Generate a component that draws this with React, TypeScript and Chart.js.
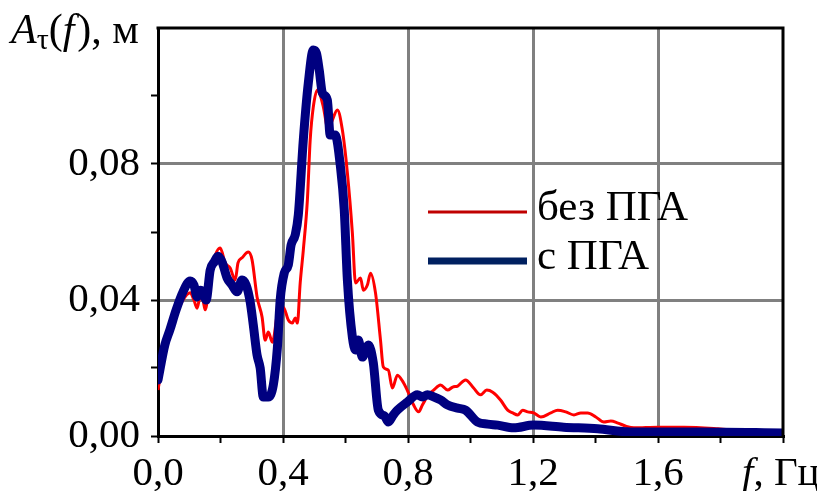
import React, { useEffect, useRef } from 'react';
import { Chart, registerables } from 'chart.js';

Chart.register(...registerables);

// ---- data ----
const seriesNames = ['без ПГА', 'с ПГА'];

const freqWithout = [
  0, 0.022, 0.038, 0.058, 0.080, 0.103, 0.115, 0.125, 0.135, 0.144,
  0.151, 0.164, 0.176, 0.199, 0.215, 0.231, 0.247, 0.256, 0.269, 0.289,
  0.301, 0.317, 0.333, 0.343, 0.353, 0.366, 0.385, 0.401, 0.417, 0.430,
  0.439, 0.446, 0.455, 0.465, 0.478, 0.487, 0.497, 0.510, 0.519, 0.529,
  0.545, 0.558, 0.574, 0.590, 0.606, 0.622, 0.632, 0.648, 0.657, 0.670,
  0.680, 0.696, 0.712, 0.721, 0.737, 0.750, 0.766, 0.786, 0.802, 0.818,
  0.834, 0.846, 0.865, 0.882, 0.904, 0.927, 0.943, 0.959, 0.984, 1.010,
  1.032, 1.052, 1.071, 1.096, 1.119, 1.135, 1.151, 1.167, 1.183, 1.202,
  1.225, 1.257, 1.279, 1.305, 1.331, 1.353, 1.375, 1.401, 1.427, 1.449,
  1.472, 1.497, 1.523, 1.600, 1.683, 1.792, 1.866, 2.0,
];
const ampWithout = [
  0.0135, 0.0253, 0.0303, 0.0356, 0.0400, 0.0421, 0.0400, 0.0376, 0.0409, 0.0400,
  0.0371, 0.0444, 0.0509, 0.0553, 0.0509, 0.0494, 0.0459, 0.0509, 0.0524, 0.0541,
  0.0518, 0.0409, 0.0350, 0.0282, 0.0306, 0.0276, 0.0371, 0.0379, 0.0341, 0.0332,
  0.0347, 0.0332, 0.0450, 0.0547, 0.0694, 0.0871, 0.0968, 0.1018, 0.1003, 0.0968,
  0.0900, 0.0929, 0.0959, 0.0900, 0.0774, 0.0597, 0.0450, 0.0465, 0.0429, 0.0444,
  0.0479, 0.0421, 0.0282, 0.0203, 0.0194, 0.0141, 0.0179, 0.0156, 0.0126, 0.0091,
  0.0071, 0.0091, 0.0121, 0.0135, 0.0150, 0.0135, 0.0144, 0.0147, 0.0165, 0.0141,
  0.0121, 0.0135, 0.0129, 0.0106, 0.0076, 0.0068, 0.0062, 0.0076, 0.0071, 0.0068,
  0.0056, 0.0068, 0.0076, 0.0071, 0.0062, 0.0068, 0.0068, 0.0056, 0.0041, 0.0044,
  0.0038, 0.0029, 0.0024, 0.0026, 0.0026, 0.0021, 0.0015, 0.0009,
];

const freqWith = [
  0, 0.022, 0.038, 0.058, 0.080, 0.103, 0.115, 0.125, 0.135, 0.144,
  0.154, 0.167, 0.180, 0.192, 0.205, 0.221, 0.237, 0.253, 0.269, 0.282,
  0.295, 0.305, 0.317, 0.327, 0.337, 0.353, 0.369, 0.382, 0.391, 0.404,
  0.417, 0.426, 0.439, 0.449, 0.465, 0.481, 0.497, 0.507, 0.516, 0.526,
  0.542, 0.551, 0.567, 0.584, 0.596, 0.606, 0.622, 0.632, 0.641, 0.654,
  0.664, 0.673, 0.689, 0.705, 0.725, 0.737, 0.753, 0.766, 0.798, 0.830,
  0.846, 0.862, 0.882, 0.904, 0.927, 0.959, 0.984, 1.023, 1.055, 1.087,
  1.138, 1.202, 1.298, 1.407, 1.513, 1.738, 2.0,
];
const ampWith = [
  0.0165, 0.0268, 0.0312, 0.0371, 0.0424, 0.0456, 0.0444, 0.0409, 0.0429, 0.0424,
  0.0400, 0.0488, 0.0512, 0.0529, 0.0512, 0.0465, 0.0444, 0.0424, 0.0459, 0.0444,
  0.0394, 0.0326, 0.0238, 0.0200, 0.0115, 0.0115, 0.0150, 0.0259, 0.0400, 0.0479,
  0.0503, 0.0562, 0.0591, 0.0650, 0.0871, 0.1038, 0.1135, 0.1126, 0.1076, 0.1009,
  0.0988, 0.0885, 0.0885, 0.0791, 0.0665, 0.0459, 0.0291, 0.0253, 0.0282, 0.0232,
  0.0253, 0.0268, 0.0215, 0.0076, 0.0059, 0.0041, 0.0062, 0.0076, 0.0100, 0.0121,
  0.0115, 0.0121, 0.0115, 0.0106, 0.0091, 0.0082, 0.0076, 0.0041, 0.0035, 0.0032,
  0.0024, 0.0032, 0.0026, 0.0021, 0.0012, 0.0012, 0.0009,
];

const xTickLabels = ['0,0', '0,4', '0,8', '1,2', '1,6'];
const yTickLabels = ['0,00', '0,04', '0,08'];

const FONT = '"Liberation Serif", "Times New Roman", serif';
const RED = '#ff0000';
const RED_LEGEND = '#c00000';
const BLUE = '#000080';
const BLUE_LEGEND = '#002060';

const overlayPlugin = {
  id: 'overlay',
  afterDraw(chart: any) {
    const { ctx } = chart;
    const { left, right, top, bottom } = chart.chartArea;
    ctx.save();
    // top and right frame
    ctx.strokeStyle = '#000';
    ctx.lineWidth = 3;
    ctx.beginPath();
    ctx.moveTo(left - 1.5, top);
    ctx.lineTo(right, top);
    ctx.lineTo(right, bottom + 1.5);
    ctx.stroke();

    ctx.fillStyle = '#000';
    ctx.textBaseline = 'alphabetic';
    ctx.textAlign = 'left';

    // y-axis title: Aτ(f), м
    let x = 11;
    const by = 43;
    const put = (t: string, font: string, dy = 0) => {
      ctx.font = font;
      ctx.fillText(t, x, by + dy);
      x += ctx.measureText(t).width;
    };
    put('A', `italic 42px ${FONT}`);
    put('τ', `30px ${FONT}`, 6);
    put('(', `42px ${FONT}`);
    put('f', `italic 42px ${FONT}`);
    x += 3;
    put('), м', `42px ${FONT}`);

    // x-axis title: f, Гц
    x = 742;
    const bx = 485;
    ctx.font = `italic 41px ${FONT}`;
    ctx.fillText('f', x, bx);
    x += ctx.measureText('f').width;
    ctx.font = `41px ${FONT}`;
    ctx.fillText(', Гц', x, bx);

    // legend
    const items = [
      { name: seriesNames[0], color: RED_LEGEND, width: 3, y: 212 },
      { name: seriesNames[1], color: BLUE_LEGEND, width: 7, y: 261 },
    ];
    items.forEach((it) => {
      ctx.strokeStyle = it.color;
      ctx.lineWidth = it.width;
      ctx.beginPath();
      ctx.moveTo(428, it.y);
      ctx.lineTo(527, it.y);
      ctx.stroke();
      ctx.font = `43px ${FONT}`;
      ctx.fillStyle = '#000';
      ctx.fillText(it.name, 537, it.y + 8);
    });
    ctx.restore();
  },
};

export default function App() {
  const ref = useRef<HTMLCanvasElement | null>(null);

  useEffect(() => {
    if (!ref.current) return;
    const toPoints = (xs: number[], ys: number[]) => xs.map((x, i) => ({ x, y: ys[i] }));
    const isMult = (v: number, step: number) => {
      const k = v / step;
      return Math.abs(k - Math.round(k)) < 1e-6;
    };
    const chart = new Chart(ref.current, {
      type: 'line',
      data: {
        datasets: [
          {
            label: seriesNames[1],
            data: toPoints(freqWith, ampWith),
            borderColor: BLUE,
            borderWidth: 9,
            pointRadius: 0,
            cubicInterpolationMode: 'monotone',
            borderCapStyle: 'round',
            borderJoinStyle: 'round',
            order: 0,
          },
          {
            label: seriesNames[0],
            data: toPoints(freqWithout, ampWithout),
            borderColor: RED,
            borderWidth: 3,
            pointRadius: 0,
            cubicInterpolationMode: 'monotone',
            borderJoinStyle: 'round',
            order: 1,
          },
        ],
      },
      options: {
        responsive: false,
        animation: false,
        events: [],
        layout: { padding: { left: 0, top: 28, right: 34, bottom: 0 } },
        plugins: { legend: { display: false }, tooltip: { enabled: false } },
        scales: {
          x: {
            type: 'linear',
            min: 0,
            max: 2,
            afterFit: (s: any) => {
              s.height = 55;
              s.paddingLeft = 0;
              s.paddingRight = 0;
            },
            afterBuildTicks: (s: any) => {
              s.ticks = [0, 0.2, 0.4, 0.6, 0.8, 1.0, 1.2, 1.4, 1.6, 1.8, 2.0].map((v) => ({ value: v }));
            },
            ticks: {
              autoSkip: false,
              maxRotation: 0,
              padding: 7,
              color: '#000',
              font: { family: FONT, size: 41 },
              callback: (v: any) => {
                const val = Number(v);
                if (!isMult(val, 0.4)) return '';
                const i = Math.round(val / 0.4);
                return i < xTickLabels.length ? xTickLabels[i] : '';
              },
            },
            grid: {
              drawTicks: true,
              tickLength: 7,
              tickWidth: 2,
              tickColor: '#000',
              lineWidth: 3,
              color: (c: any) => {
                const v = c.tick ? c.tick.value : 0;
                return isMult(v, 0.4) && v > 0.01 && v < 1.99 ? '#808080' : 'rgba(0,0,0,0)';
              },
            },
            border: { display: true, color: '#000', width: 3 },
          },
          y: {
            type: 'linear',
            min: 0,
            max: 0.12,
            afterFit: (s: any) => {
              s.width = 158;
              s.paddingTop = 0;
              s.paddingBottom = 0;
            },
            afterBuildTicks: (s: any) => {
              s.ticks = [0, 0.02, 0.04, 0.06, 0.08, 0.10, 0.12].map((v) => ({ value: v }));
            },
            ticks: {
              autoSkip: false,
              padding: 11,
              color: '#000',
              font: { family: FONT, size: 41 },
              callback: (v: any) => {
                const val = Number(v);
                if (!isMult(val, 0.04)) return '';
                const i = Math.round(val / 0.04);
                return i < yTickLabels.length ? yTickLabels[i] : '';
              },
            },
            grid: {
              drawTicks: true,
              tickLength: 7,
              tickWidth: 2,
              tickColor: (c: any) => (c.tick && c.tick.value > 0.115 ? 'rgba(0,0,0,0)' : '#000'),
              lineWidth: 3,
              color: (c: any) => {
                const v = c.tick ? c.tick.value : 0;
                return isMult(v, 0.04) && v > 0.001 && v < 0.119 ? '#808080' : 'rgba(0,0,0,0)';
              },
            },
            border: { display: true, color: '#000', width: 3 },
          },
        },
      },
      plugins: [overlayPlugin],
    } as any);
    return () => chart.destroy();
  }, []);

  return (
    <div style={{ position: 'fixed', left: 0, top: 0, width: 817, height: 491, background: '#fff' }}>
      <canvas ref={ref} width={817} height={491} style={{ display: 'block', width: 817, height: 491 }} />
    </div>
  );
}
